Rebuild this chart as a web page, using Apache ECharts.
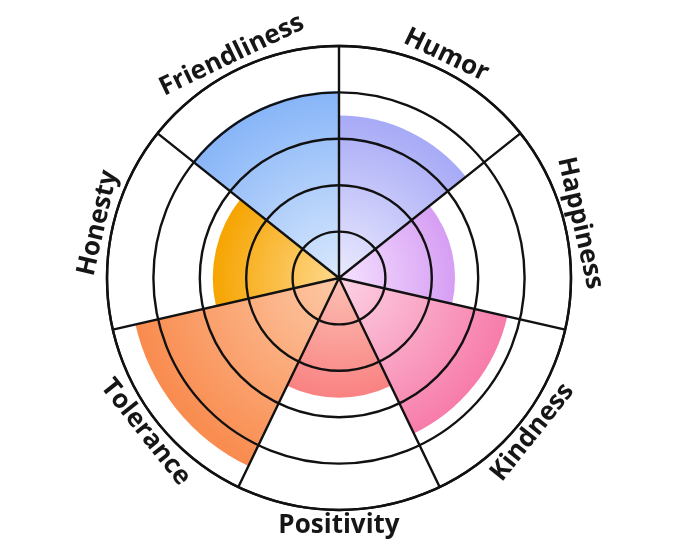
<!DOCTYPE html>
<html>
<head>
<meta charset="utf-8">
<script src="https://cdn.jsdelivr.net/npm/echarts@6/dist/echarts.min.js"></script>
<style>
html,body{margin:0;padding:0;background:#fff;}
#chart{width:680px;height:557px;}
</style>
</head>
<body>
<div id="chart"></div>
<script>
const categories = ['Humor', 'Happiness', 'Kindness', 'Positivity', 'Tolerance', 'Honesty', 'Friendliness'];
const values = [3.5, 2.5, 3.72, 2.58, 4.5, 2.72, 4.03];
const innerColors = ['#ebeafe', '#f6e2fe', '#fcd3e4', '#fcc0b4', '#fdc9a6', '#ffd98e', '#d9e8fd'];
const outerColors = ['#a7aaf6', '#d69ef4', '#f77ca9', '#f98282', '#f98b4e', '#f6a400', '#87b5f8'];
const radiusTicks = { min: 0, max: 5, interval: 1 };
const labelRadiusValue = 5.33;

const CX = 339, CY = 278, R = 232;
const lineColor = '#111111';

const chart = echarts.init(document.getElementById('chart'));

const barData = values.map((v, i) => ({
  value: v,
  itemStyle: {
    color: {
      type: 'radial', x: CX, y: CY, r: R, global: true,
      colorStops: [
        { offset: 0, color: innerColors[i] },
        { offset: v / radiusTicks.max, color: outerColors[i] },
        { offset: 1, color: outerColors[i] }
      ]
    }
  }
}));

const labelData = categories.map((c, i) => [labelRadiusValue, c]);

chart.setOption({
  backgroundColor: '#ffffff',
  animation: false,
  polar: { center: [CX, CY], radius: [0, R] },
  angleAxis: {
    type: 'category',
    data: categories,
    startAngle: 90,
    clockwise: true,
    z: 10,
    axisLine: { show: true, lineStyle: { color: lineColor, width: 2.4 } },
    axisTick: { show: false },
    axisLabel: { show: false },
    splitLine: { show: true, lineStyle: { color: lineColor, width: 2.4 } }
  },
  radiusAxis: {
    type: 'value',
    min: radiusTicks.min,
    max: radiusTicks.max,
    interval: radiusTicks.interval,
    z: 10,
    axisLine: { show: false },
    axisTick: { show: false },
    axisLabel: { show: false },
    splitLine: { show: true, lineStyle: { color: lineColor, width: 2.4 } }
  },
  series: [
    {
      type: 'bar',
      coordinateSystem: 'polar',
      data: barData,
      barCategoryGap: '0%',
      itemStyle: { borderWidth: 0 },
      z: 2
    },
    {
      type: 'custom',
      coordinateSystem: 'polar',
      data: labelData,
      encode: { radius: 0, angle: 1 },
      z: 20,
      silent: true,
      renderItem: function (params, api) {
        const cs = params.coordSys;
        const p = api.coord([api.value(0), api.value(1)]);
        const dx = p[0] - cs.cx, dy = p[1] - cs.cy;
        const phi = Math.atan2(-dy, dx);
        const rot = Math.sin(phi) >= -0.01 ? phi - Math.PI / 2 : phi + Math.PI / 2;
        return {
          type: 'text',
          x: p[0], y: p[1],
          rotation: rot,
          style: {
            text: categories[params.dataIndex],
            x: 0, y: 0,
            align: 'center',
            verticalAlign: 'middle',
            fill: '#161616',
            font: 'bold 26px "Open Sans"'
          }
        };
      }
    }
  ]
});
</script>
</body>
</html>
